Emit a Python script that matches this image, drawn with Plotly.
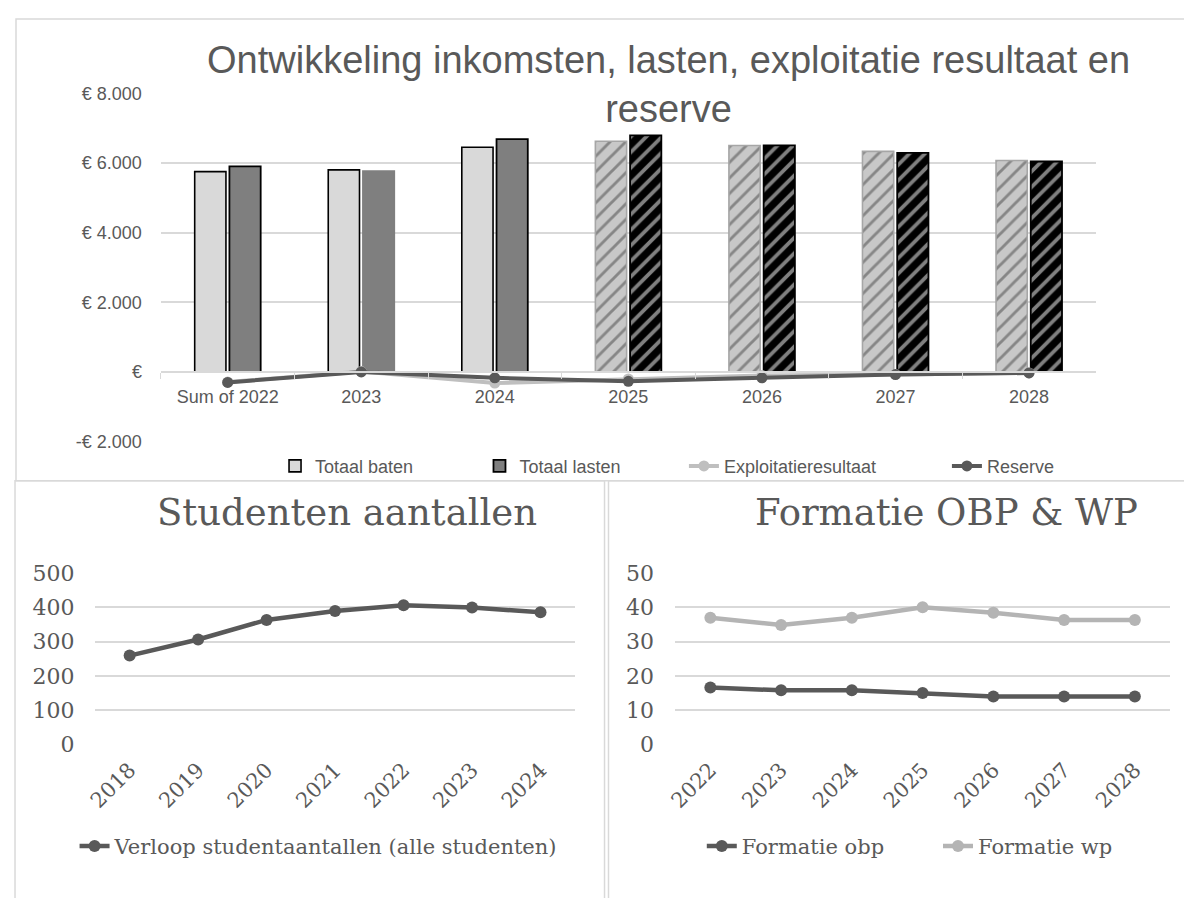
import plotly.graph_objects as go

# ---------------- Top chart data ----------------
categories = ["Sum of 2022", "2023", "2024", "2025", "2026", "2027", "2028"]
totaal_baten = [5750, 5800, 6450, 6620, 6500, 6330, 6070]
totaal_lasten = [5900, 5760, 6680, 6790, 6500, 6290, 6040]
exploitatieresultaat = [-290, 10, -320, -200, -100, -70, -30]
reserve = [-300, 0, -170, -270, -170, -75, -30]
prognose = [False, False, False, True, True, True, True]
top_tickvals = [-2000, 0, 2000, 4000, 6000, 8000]
top_ticktext = ["-€ 2.000", "€", "€ 2.000", "€ 4.000", "€ 6.000", "€ 8.000"]

# ---------------- Studenten ----------------
student_years = ["2018", "2019", "2020", "2021", "2022", "2023", "2024"]
studentaantallen = [259, 306, 363, 389, 406, 399, 385]

# ---------------- Formatie ----------------
formatie_years = ["2022", "2023", "2024", "2025", "2026", "2027", "2028"]
formatie_obp = [16.6, 15.8, 15.8, 15.0, 14.0, 14.0, 14.0]
formatie_wp = [36.9, 34.8, 36.9, 40.0, 38.4, 36.3, 36.3]

W, H = 1192, 898
OFF = 8  # page body margin offset


def px(x):
    return (x - OFF) / W


def py(y):
    return 1 - (y - OFF) / H


SANS = "Liberation Sans, Arial, sans-serif"
SERIF = "DejaVu Serif, Georgia, serif"
TXT = "#595959"
GRID = "#d9d9d9"

fig = go.Figure()

# Bars (in 'replace' pattern mode the marker colour is the hatch colour)
baten_fill = ["#c8c8c8" if p else "#d9d9d9" for p in prognose]
baten_line = ["#a6a6a6" if p else "#000000" for p in prognose]
lasten_fill = ["#000000" if p else "#7f7f7f" for p in prognose]
lasten_line = ["#000000", "#7f7f7f", "#000000", "#000000", "#000000", "#000000", "#000000"]
shapes_pat = ["/" if p else "" for p in prognose]

fig.add_trace(go.Bar(
    x=categories, y=totaal_baten, name="Totaal baten", legend="legend",
    marker=dict(color=baten_fill, line=dict(color=baten_line, width=1.6),
                pattern=dict(shape=shapes_pat, size=11, solidity=0.26)),
    xaxis="x", yaxis="y",
))
fig.add_trace(go.Bar(
    x=categories, y=totaal_lasten, name="Totaal lasten", legend="legend2",
    marker=dict(color=lasten_fill, line=dict(color=lasten_line, width=1.8),
                pattern=dict(shape=shapes_pat, size=11, solidity=0.34)),
    xaxis="x", yaxis="y",
))
fig.add_trace(go.Scatter(
    x=categories, y=exploitatieresultaat, name="Exploitatieresultaat", legend="legend3",
    mode="lines+markers", line=dict(color="#bfbfbf", width=4),
    marker=dict(size=11, color="#bfbfbf"), xaxis="x", yaxis="y",
))
fig.add_trace(go.Scatter(
    x=categories, y=reserve, name="Reserve", legend="legend4",
    mode="lines+markers", line=dict(color="#595959", width=4),
    marker=dict(size=11, color="#595959"), xaxis="x", yaxis="y",
))

# Studenten
fig.add_trace(go.Scatter(
    x=student_years, y=studentaantallen, name="Verloop studentaantallen (alle studenten)",
    legend="legend5", mode="lines+markers", line=dict(color="#595959", width=4.5),
    marker=dict(size=12, color="#595959"), xaxis="x2", yaxis="y2",
))

# Formatie
fig.add_trace(go.Scatter(
    x=formatie_years, y=formatie_obp, name="Formatie obp", legend="legend6",
    mode="lines+markers", line=dict(color="#595959", width=4.5),
    marker=dict(size=12, color="#595959"), xaxis="x3", yaxis="y3",
))
fig.add_trace(go.Scatter(
    x=formatie_years, y=formatie_wp, name="Formatie wp", legend="legend7",
    mode="lines+markers", line=dict(color="#b4b4b4", width=4.5),
    marker=dict(size=12, color="#b4b4b4"), xaxis="x3", yaxis="y3",
))


def leg(xpx, ypx, family, size):
    return dict(x=px(xpx), y=py(ypx), xanchor="left", yanchor="middle",
                orientation="h", bgcolor="rgba(0,0,0,0)", borderwidth=0,
                font=dict(family=family, size=size, color=TXT))


fig.update_layout(
    width=W, height=H, margin=dict(l=0, r=0, t=0, b=0),
    paper_bgcolor="white", plot_bgcolor="white",
    barmode="group", bargap=0.48, bargroupgap=0.1,
    xaxis=dict(domain=[px(153), px(1095)], anchor="free", position=py(370),
               type="category", range=[-0.5, 6.5], showline=True, linecolor=GRID,
               linewidth=1.5, ticks="outside", tickson="boundaries", ticklen=6,
               tickcolor=GRID, showgrid=False, ticklabelstandoff=9,
               tickfont=dict(family=SANS, size=18, color=TXT)),
    yaxis=dict(domain=[py(441.7), py(83.3)], anchor="x", range=[-2000, 8000],
               tickvals=top_tickvals, ticktext=top_ticktext, gridcolor=GRID,
               gridwidth=1.5, zeroline=False, showline=False, ticks="",
               ticklabelstandoff=18, tickfont=dict(family=SANS, size=18, color=TXT)),
    xaxis2=dict(domain=[px(87), px(570)], anchor="y2", type="category",
                range=[-0.5, 6.5], showline=False, showgrid=False, ticks="",
                tickangle=-45, ticklabelstandoff=8,
                tickfont=dict(family=SERIF, size=21, color=TXT)),
    yaxis2=dict(domain=[py(753.3), py(576.7)], anchor="x2", range=[0, 500],
                dtick=100, gridcolor=GRID, gridwidth=1.5, zeroline=False,
                showline=False, ticks="", ticklabelstandoff=20,
                tickfont=dict(family=SERIF, size=22, color=TXT)),
    xaxis3=dict(domain=[px(671), px(1170)], anchor="y3", type="category",
                range=[-0.5, 6.5], showline=False, showgrid=False, ticks="",
                tickangle=-45, ticklabelstandoff=8,
                tickfont=dict(family=SERIF, size=21, color=TXT)),
    yaxis3=dict(domain=[py(753.3), py(576.7)], anchor="x3", range=[0, 50],
                dtick=10, gridcolor=GRID, gridwidth=1.5, zeroline=False,
                showline=False, ticks="", ticklabelstandoff=20,
                tickfont=dict(family=SERIF, size=22, color=TXT)),
    legend=leg(268, 467, SANS, 18),
    legend2=leg(474, 467, SANS, 18),
    legend3=leg(680, 467, SANS, 18),
    legend4=leg(945, 467, SANS, 18),
    legend5=leg(66, 858, SERIF, 21),
    legend6=leg(698, 858, SERIF, 21),
    legend7=leg(936, 858, SERIF, 21),
    showlegend=True,
)

# Titles
fig.add_annotation(text="Ontwikkeling inkomsten, lasten, exploitatie resultaat en<br>reserve",
                   x=px(664), y=py(74), xref="paper", yref="paper", showarrow=False,
                   xanchor="center", yanchor="middle", align="center",
                   font=dict(family=SANS, size=38, color=TXT))
fig.add_annotation(text="Studenten aantallen", x=px(341), y=py(515), xref="paper",
                   yref="paper", showarrow=False, xanchor="center", yanchor="middle",
                   font=dict(family=SERIF, size=37, color=TXT))
fig.add_annotation(text="Formatie OBP &amp; WP", x=px(945), y=py(515), xref="paper",
                   yref="paper", showarrow=False, xanchor="center", yanchor="middle",
                   font=dict(family=SERIF, size=37, color=TXT))

# Panel borders
for x0, y0, x1, y1 in [(7, 7, 1215, 482), (6, 482, 600, 915), (604, 482, 1215, 915)]:
    fig.add_shape(type="rect", xref="paper", yref="paper",
                  x0=px(x0), x1=px(x1), y0=py(y0), y1=py(y1),
                  line=dict(color=GRID, width=1.5), fillcolor="rgba(0,0,0,0)", layer="below")

fig.write_html("out.html")
